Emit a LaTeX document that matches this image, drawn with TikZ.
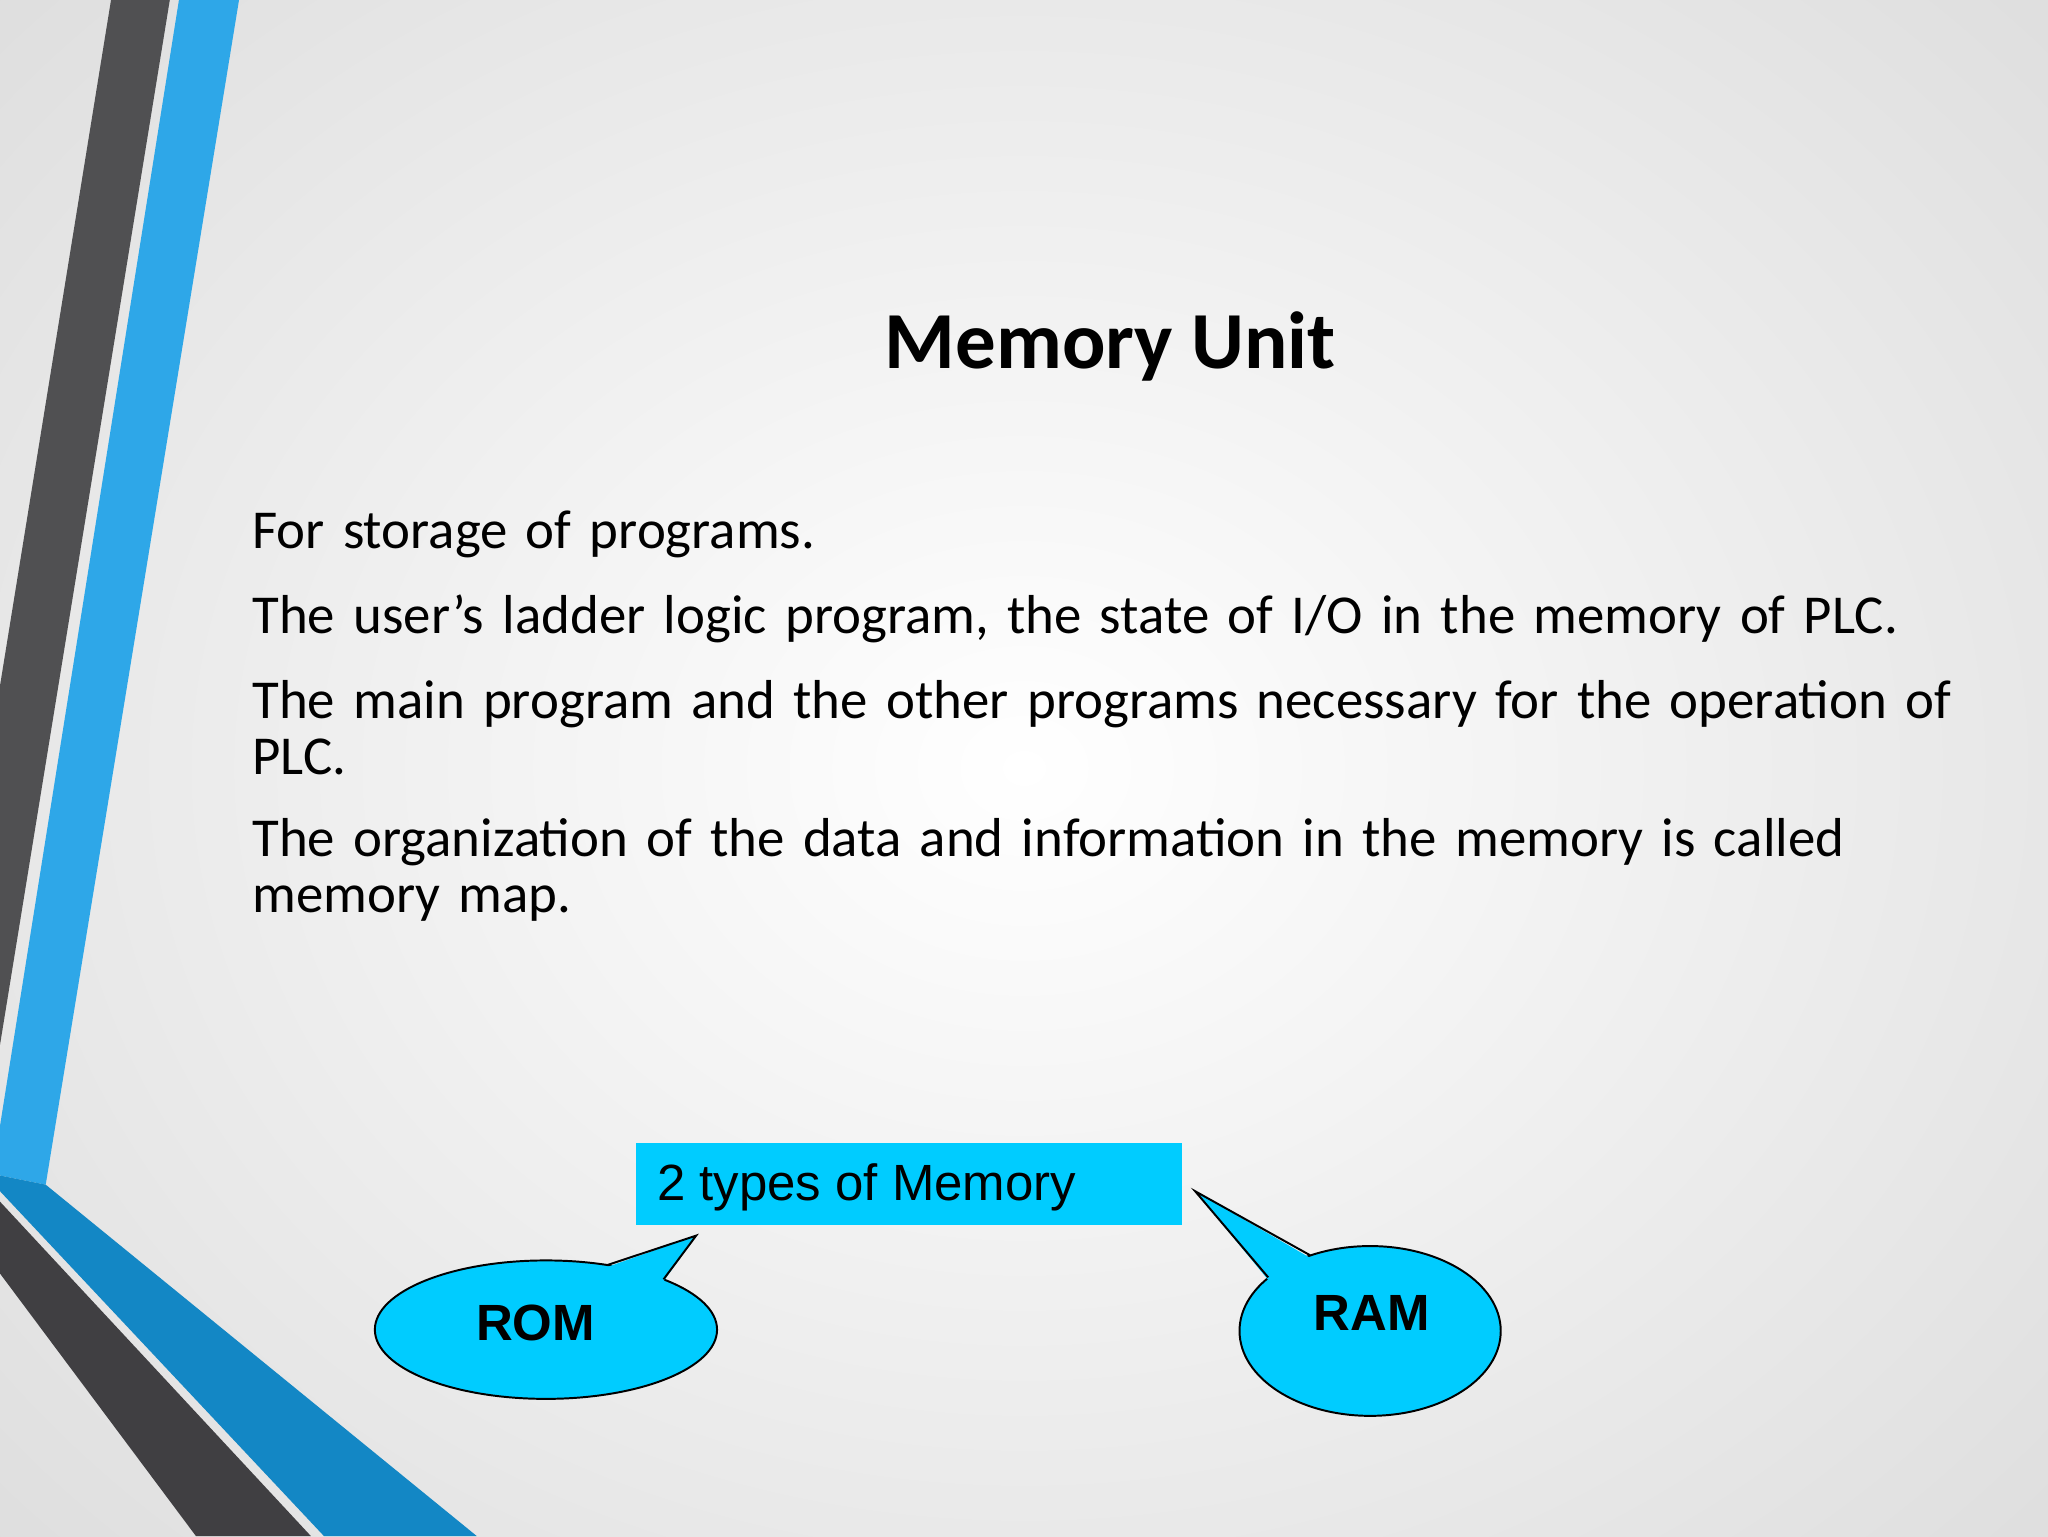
\documentclass[tikz,border=0pt]{standalone}
\usepackage{fontspec}
\setmainfont{Carlito}
\newfontfamily\arial{Liberation Sans}
\usetikzlibrary{shapes.geometric}
\definecolor{cyanfill}{HTML}{00CCFF}
\definecolor{stripedark}{HTML}{505052}
\definecolor{stripeblue}{HTML}{2EA7E8}
\definecolor{bandblue}{HTML}{1387C5}
\definecolor{banddark}{HTML}{403F42}
\tikzset{
  bodytext/.style={anchor=base west,font=\fontsize{42}{43}\selectfont,align=left,text width=1330pt,inner sep=0},
  bubble/.style={ellipse,fill=cyanfill,draw=black,line width=1.5pt,inner sep=0},
  bubbletext/.style={font=\arial\bfseries\fontsize{39}{40}\selectfont},
}
\begin{document}
\begin{tikzpicture}[x=1pt,y=-1pt]
\useasboundingbox (0,0) rectangle (1568,1176);
\shade[inner color=white,outer color=black!13] (-300,-300) rectangle (1868,1476);
% stripes
\fill[stripedark] (85,0) -- (130,0) -- (0,800) -- (0,525) -- cycle;
\fill[stripeblue] (137,0) -- (183,0) -- (35,907) -- (0,900) -- (0,862) -- cycle;
\fill[bandblue] (0,900) -- (35,907) -- (365,1176) -- (248,1176) -- (0,912) -- cycle;
\fill[banddark] (0,920) -- (238,1176) -- (150,1176) -- (0,975) -- cycle;
% title
\node[font=\bfseries\fontsize{62}{64}\selectfont] (title) at (850,265) {Memory Unit};
% body
\node[bodytext] (l1) at (193,420) {For storage of programs.};
\node[bodytext] (l2) at (193,485) {The user’s ladder logic program, the state of I/O in the memory of PLC.};
\node[bodytext] (l3) at (193,550) {The main program and the other programs necessary for the operation of PLC.};
\node[bodytext] (l4) at (193,656) {The organization of the data and information in the memory is called memory map.};
% box
\node[fill=cyanfill,minimum width=418pt,minimum height=63pt,inner sep=0] (box) at (696,906.5) {};
\node[anchor=west,font=\arial\fontsize{39}{40}\selectfont,inner sep=0] (boxt) at (503,909) {2 types of Memory};
% ROM
\node[bubble,minimum width=262pt,minimum height=106pt] (rom) at (418,1018) {};
\coordinate (romtip) at (533,946);
\fill[cyanfill] (465,970) -- (romtip) -- (508,981) -- cycle;
\draw[line width=1.5pt,line join=miter] (465,968.5) -- (romtip) -- (508,979.5);
\node[bubbletext] (romt) at (410,1013) {ROM};
% RAM
\node[bubble,minimum width=200pt,minimum height=130pt] (ram) at (1049,1019) {};
\coordinate (ramtip) at (915,912);
\fill[cyanfill] (1003,963) -- (ramtip) -- (971,980) -- cycle;
\draw[line width=1.5pt,line join=miter] (1003,961) -- (ramtip) -- (971,978);
\node[bubbletext] (ramt) at (1050,1005) {RAM};
\end{tikzpicture}
\end{document}
